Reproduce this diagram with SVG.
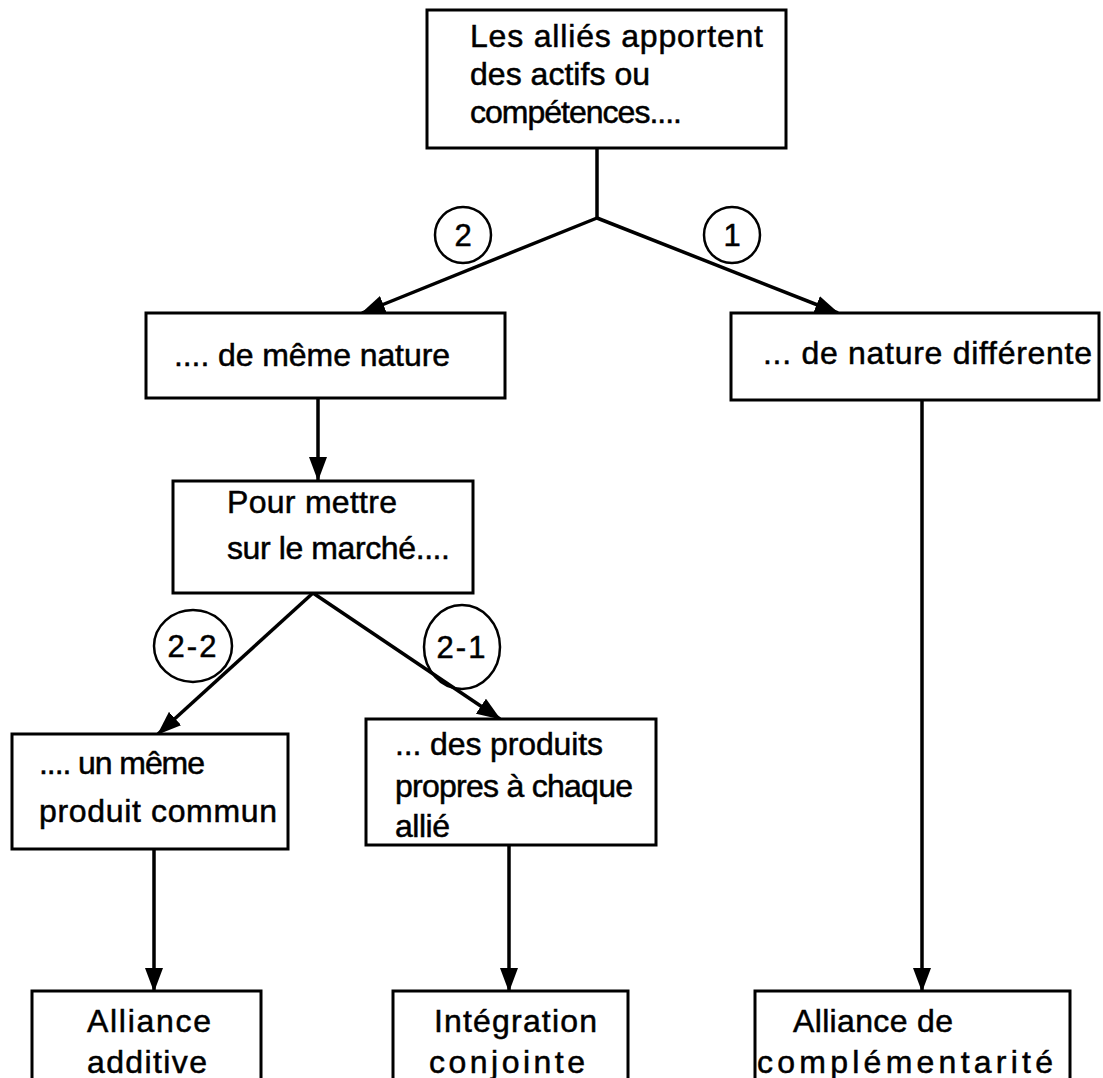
<svg xmlns="http://www.w3.org/2000/svg" width="1103" height="1078" viewBox="0 0 1103 1078">
<style>
.box{fill:#fff;stroke:#000;stroke-width:3}
.t{font-family:"Liberation Sans",Arial,sans-serif;font-size:32px;fill:#000;stroke:#000;stroke-width:0.5}
.c{fill:none;stroke:#000;stroke-width:2.5}
.ct{font-family:"Liberation Sans",Arial,sans-serif;font-size:31px;fill:#000;stroke:#000;stroke-width:0.5;text-anchor:middle}
.ln{fill:none;stroke:#000;stroke-width:3.5}
</style>
<defs>
<marker id="ah" viewBox="0 0 24 18" refX="23" refY="9" markerWidth="24" markerHeight="18" markerUnits="userSpaceOnUse" orient="auto">
<path d="M0,0 L24,9 L0,18 z" fill="#000"/>
</marker>
</defs>
<rect width="1103" height="1078" fill="#fff"/>
<g id="connectors">
<line class="ln" x1="597" y1="148" x2="597" y2="219"/>
<line class="ln" x1="597" y1="218" x2="362" y2="313" marker-end="url(#ah)"/>
<line class="ln" x1="597" y1="218" x2="838" y2="313" marker-end="url(#ah)"/>
<line class="ln" x1="318" y1="398" x2="318" y2="480" marker-end="url(#ah)"/>
<line class="ln" x1="313" y1="593" x2="158" y2="734" marker-end="url(#ah)"/>
<line class="ln" x1="313" y1="593" x2="500" y2="719" marker-end="url(#ah)"/>
<line class="ln" x1="922" y1="400" x2="922" y2="991" marker-end="url(#ah)"/>
<line class="ln" x1="154" y1="849" x2="154" y2="991" marker-end="url(#ah)"/>
<line class="ln" x1="509" y1="845" x2="509" y2="991" marker-end="url(#ah)"/>
</g>
<g id="label-2"><circle class="c" cx="463" cy="235" r="28"/><text class="ct" x="463" y="246">2</text></g>
<g id="label-1"><circle class="c" cx="732" cy="235" r="28"/><text class="ct" x="732" y="246">1</text></g>
<g id="label-2-2"><ellipse class="c" cx="193" cy="646" rx="39" ry="36"/><text class="ct" x="193" y="657" letter-spacing="2">2-2</text></g>
<g id="label-2-1"><ellipse class="c" cx="462" cy="647" rx="38" ry="42"/><text class="ct" x="462" y="658" letter-spacing="2">2-1</text></g>
<g id="n-top">
<rect class="box" x="427" y="10" width="359" height="138"/>
<text class="t" x="470" y="47" textLength="293" lengthAdjust="spacing">Les alliés apportent</text>
<text class="t" x="470" y="85" textLength="180" lengthAdjust="spacing">des actifs ou</text>
<text class="t" x="470" y="123" textLength="212" lengthAdjust="spacing">compétences....</text>
</g>
<g id="n-meme">
<rect class="box" x="146" y="313" width="359" height="85"/>
<text class="t" x="174" y="366" textLength="276" lengthAdjust="spacing">.... de même nature</text>
</g>
<g id="n-diff">
<rect class="box" x="731" y="313" width="368" height="87"/>
<text class="t" x="763" y="364" textLength="329" lengthAdjust="spacing">... de nature différente</text>
</g>
<g id="n-pour">
<rect class="box" x="173" y="481" width="300" height="112"/>
<text class="t" x="227" y="513" textLength="170" lengthAdjust="spacing">Pour mettre</text>
<text class="t" x="227" y="559" textLength="223" lengthAdjust="spacing">sur le marché....</text>
</g>
<g id="n-commun">
<rect class="box" x="12" y="734" width="276" height="115"/>
<text class="t" x="39" y="774" textLength="166" lengthAdjust="spacing">.... un même</text>
<text class="t" x="39" y="822" textLength="238" lengthAdjust="spacing">produit commun</text>
</g>
<g id="n-propres">
<rect class="box" x="366" y="719" width="290" height="126"/>
<text class="t" x="395" y="755" textLength="208" lengthAdjust="spacing">... des produits</text>
<text class="t" x="395" y="797" textLength="238" lengthAdjust="spacing">propres à chaque</text>
<text class="t" x="395" y="837" textLength="55" lengthAdjust="spacing">allié</text>
</g>
<g id="n-additive">
<rect class="box" x="32" y="991" width="229" height="110"/>
<text class="t" x="87" y="1032" textLength="124" lengthAdjust="spacing">Alliance</text>
<text class="t" x="87" y="1073" textLength="120" lengthAdjust="spacing">additive</text>
</g>
<g id="n-integration">
<rect class="box" x="393" y="991" width="235" height="110"/>
<text class="t" x="434" y="1032" textLength="163" lengthAdjust="spacing">Intégration</text>
<text class="t" x="429" y="1073" textLength="156" lengthAdjust="spacing">conjointe</text>
</g>
<g id="n-complementarite">
<rect class="box" x="755" y="991" width="315" height="110"/>
<text class="t" x="793" y="1032" textLength="160" lengthAdjust="spacing">Alliance de</text>
<text class="t" x="757" y="1073" textLength="296" lengthAdjust="spacing">complémentarité</text>
</g>
</svg>
